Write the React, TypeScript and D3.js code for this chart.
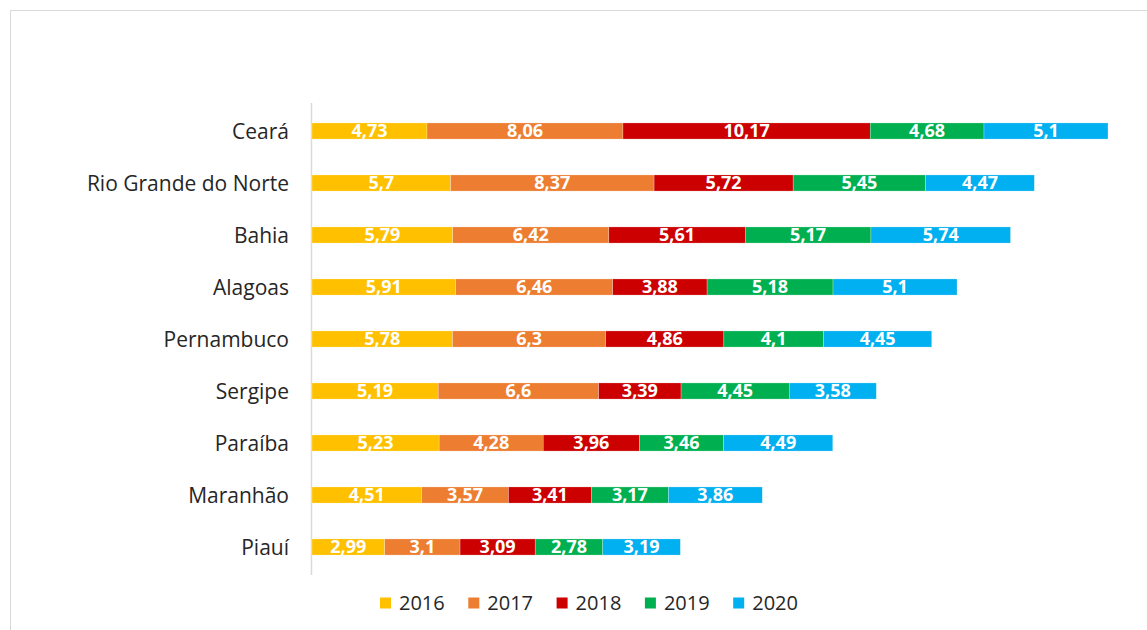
import React from "react";
import * as d3 from "d3";

const categories = ["Ceará", "Rio Grande do Norte", "Bahia", "Alagoas", "Pernambuco", "Sergipe", "Paraíba", "Maranhão", "Piauí"];
const years = ["2016", "2017", "2018", "2019", "2020"];
const v2016 = [4.73, 5.7, 5.79, 5.91, 5.78, 5.19, 5.23, 4.51, 2.99];
const v2017 = [8.06, 8.37, 6.42, 6.46, 6.3, 6.6, 4.28, 3.57, 3.1];
const v2018 = [10.17, 5.72, 5.61, 3.88, 4.86, 3.39, 3.96, 3.41, 3.09];
const v2019 = [4.68, 5.45, 5.17, 5.18, 4.1, 4.45, 3.46, 3.17, 2.78];
const v2020 = [5.1, 4.47, 5.74, 5.1, 4.45, 3.58, 4.49, 3.86, 3.19];
const colors = ["#FFC000", "#ED7D31", "#CC0000", "#00B050", "#00B0F0"];

const W = 1147, H = 630;

export default function App() {
  const series = [v2016, v2017, v2018, v2019, v2020];
  const rows = categories.map((c, i) => {
    const r: any = { cat: c };
    years.forEach((y, j) => (r[y] = series[j][i]));
    return r;
  });
  const stack = d3.stack().keys(years)(rows);
  const x = d3.scaleLinear().domain([0, 32.74]).range([312, 1108]);
  const y = d3.scaleBand().domain(categories).range([105, 573]).paddingInner(0.69).paddingOuter(0.345);
  const fmt = (v: number) => String(v).replace(".", ",");
  const font = "Open Sans, Liberation Sans, sans-serif";
  return (
    <svg width={W} height={H} style={{ position: "absolute", left: 0, top: 0 }}>
      <rect x={0} y={0} width={W} height={H} fill="#fff" />
      <rect x={10.5} y={10.5} width={W} height={H} fill="none" stroke="#d9d9d9" strokeWidth={1} />
      <line x1={311.5} x2={311.5} y1={103} y2={575} stroke="#d9d9d9" strokeWidth={1.5} />
      {stack.map((s, j) => (
        <g key={years[j]}>
          {s.map((d, i) => {
            const x0 = x(d[0]), x1 = x(d[1]);
            const yy = y(categories[i])!;
            return (
              <g key={i}>
                <rect x={x0} y={yy} width={x1 - x0} height={y.bandwidth()} fill={colors[j]} stroke="#fff" strokeOpacity={0.5} strokeWidth={0.5} />
                <text x={(x0 + x1) / 2} y={yy + y.bandwidth() / 2} dy="0.36em" textAnchor="middle" fill="#fff" fontWeight="bold" fontSize={18} fontFamily={font}>
                  {fmt(series[j][i])}
                </text>
              </g>
            );
          })}
        </g>
      ))}
      {categories.map((c) => (
        <text key={c} x={289} y={y(c)! + y.bandwidth() / 2} dy="0.36em" textAnchor="end" fontSize={21} fill="#262626" fontFamily={font}>
          {c}
        </text>
      ))}
      {years.map((yr, j) => (
        <g key={yr} transform={`translate(${380 + j * 88.3},603)`}>
          <rect x={0} y={-5.5} width={11} height={11} fill={colors[j]} />
          <text x={19} y={0} dy="0.36em" fontSize={20} fill="#262626" fontFamily={font}>{yr}</text>
        </g>
      ))}
    </svg>
  );
}
